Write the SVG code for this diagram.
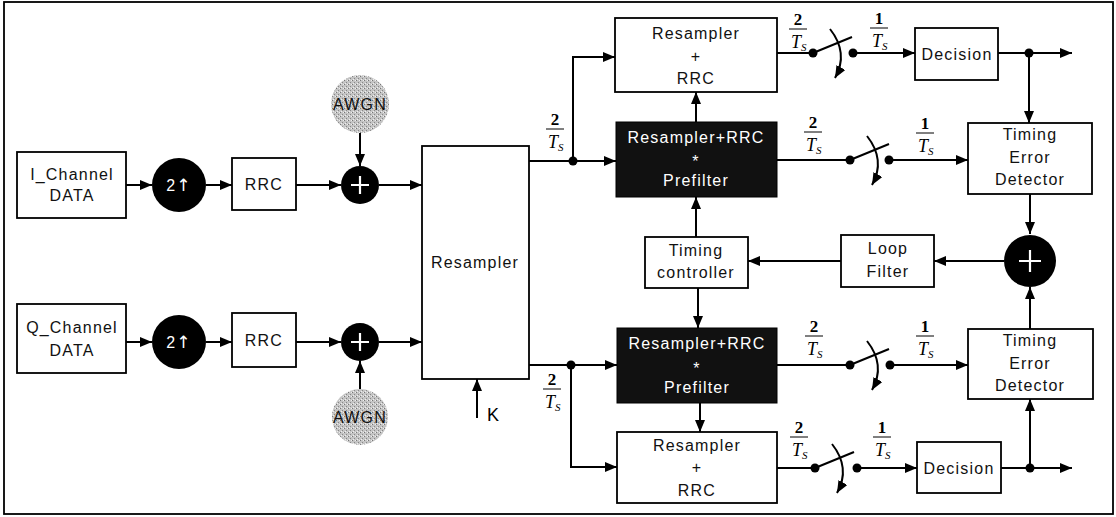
<svg xmlns="http://www.w3.org/2000/svg" width="1116" height="517" viewBox="0 0 1116 517">
<style>
.box{fill:#fff;stroke:#000;stroke-width:1.8}
.blk{fill:#111;stroke:#000;stroke-width:1}
.t{font-family:"Liberation Sans",Arial,sans-serif;font-size:16px;letter-spacing:1.2px;text-anchor:middle;fill:#111}
.w{fill:#fff}
.c{fill:none;stroke:#000;stroke-width:2}
.a{marker-end:url(#arr)}
.dot{fill:#000}
.plus{stroke:#fff;stroke-width:2.2}
.fd{font-family:"Liberation Serif","Times New Roman",serif;font-size:17px;text-anchor:middle;font-weight:bold}
.ft{font-family:"Liberation Serif","Times New Roman",serif;font-size:18px;font-style:italic}
.fs{font-size:11px}
.bar{stroke:#000;stroke-width:1}
.up{font-family:"DejaVu Sans",sans-serif;font-size:17px}
</style>
<defs>
<marker id="arr" viewBox="0 0 12 10" refX="12" refY="5" markerWidth="12" markerHeight="10" markerUnits="userSpaceOnUse" orient="auto">
<path d="M0,0 L12,5 L0,10 z" fill="#000"/>
</marker>
<pattern id="noise" width="4" height="4" patternUnits="userSpaceOnUse">
<rect width="4" height="4" fill="#c4c4c4"/>
<rect x="0" y="0" width="1" height="1" fill="#777"/>
<rect x="2" y="2" width="1" height="1" fill="#888"/>
<rect x="3" y="0" width="1" height="1" fill="#eee"/>
<rect x="1" y="3" width="1" height="1" fill="#eee"/>
</pattern>
<g id="frac2"><text class="fd" x="0" y="-4">2</text><line class="bar" x1="-9" y1="0" x2="9" y2="0"/><text class="ft" x="-7" y="19">T<tspan class="fs" dy="3">S</tspan></text></g>
<g id="frac1"><text class="fd" x="0" y="-4">1</text><line class="bar" x1="-9" y1="0" x2="9" y2="0"/><text class="ft" x="-7" y="19">T<tspan class="fs" dy="3">S</tspan></text></g>
<g id="sw"><circle class="dot" cx="0" cy="0" r="4.5"/><line class="c" x1="0" y1="0" x2="39" y2="-16"/><path class="c a" d="M17,-24 Q36,0 22,25" stroke-width="1.8"/></g>
</defs>

<rect x="4" y="2" width="1109" height="512" fill="#fff" stroke="#000" stroke-width="1.8"/>

<g id="connectors">
<path class="c a" d="M126,185 H152"/>
<path class="c a" d="M206,185 H232"/>
<path class="c a" d="M296,185 H341"/>
<path class="c a" d="M360,133 V166"/>
<path class="c a" d="M379,185 H422"/>
<path class="c a" d="M126,342 H152"/>
<path class="c a" d="M206,342 H232"/>
<path class="c a" d="M296,342 H341"/>
<path class="c a" d="M360,389 V361"/>
<path class="c a" d="M379,342 H422"/>
<path class="c a" d="M477,418 V379"/>
<path class="c a" d="M529,161 H616"/>
<path class="c a" d="M573,161 V57 H615"/>
<circle class="dot" cx="573" cy="161" r="4.5"/>
<path class="c a" d="M696,123 V92"/>
<path class="c" d="M777,53 H813"/>
<use href="#sw" x="813" y="53"/>
<circle class="dot" cx="853" cy="53" r="4.5"/>
<path class="c a" d="M853,53 H915"/>
<path class="c a" d="M998,53 H1072"/>
<circle class="dot" cx="1029" cy="53" r="4.5"/>
<path class="c a" d="M1029,53 V123"/>
<path class="c" d="M777,160 H850"/>
<use href="#sw" x="850" y="160"/>
<circle class="dot" cx="889" cy="160" r="4.5"/>
<path class="c a" d="M889,160 H968"/>
<path class="c a" d="M1030,194 V234"/>
<path class="c a" d="M1004,261 H934"/>
<path class="c a" d="M841,261 H748"/>
<path class="c a" d="M696,237 V197"/>
<path class="c a" d="M698,288 V328"/>
<path class="c a" d="M529,365 H617"/>
<path class="c a" d="M571,365 V467 H617"/>
<circle class="dot" cx="571" cy="365" r="4.5"/>
<path class="c a" d="M700,403 V432"/>
<path class="c" d="M777,365 H850"/>
<use href="#sw" x="850" y="365"/>
<circle class="dot" cx="890" cy="365" r="4.5"/>
<path class="c a" d="M890,365 H968"/>
<path class="c a" d="M1030,329 V287"/>
<path class="c" d="M777,468 H815"/>
<use href="#sw" x="815" y="468"/>
<circle class="dot" cx="857" cy="468" r="4.5"/>
<path class="c a" d="M857,468 H917"/>
<path class="c a" d="M1001,468 H1072"/>
<circle class="dot" cx="1030" cy="468" r="4.5"/>
<path class="c a" d="M1030,468 V399"/>
</g>

<g id="labels">
<use href="#frac2" x="798" y="29"/>
<use href="#frac1" x="879" y="28"/>
<use href="#frac2" x="555" y="129"/>
<use href="#frac2" x="813" y="132"/>
<use href="#frac1" x="925" y="133"/>
<use href="#frac2" x="814" y="336"/>
<use href="#frac1" x="925" y="336"/>
<use href="#frac2" x="552" y="389"/>
<use href="#frac2" x="799" y="437"/>
<use href="#frac1" x="882" y="437"/>
<text x="487" y="421" font-family="Liberation Sans,Arial,sans-serif" font-size="18">K</text>
</g>

<g id="i-data"><rect class="box" x="17" y="152" width="109" height="66"/><text class="t" x="72" y="180">I_Channel</text><text class="t" x="72" y="201">DATA</text></g>
<g id="i-up"><circle cx="179" cy="185" r="27" fill="#000"/><text class="t w" x="179" y="191" font-size="17">2<tspan class="up">↑</tspan></text></g>
<g id="i-rrc"><rect class="box" x="232" y="158" width="64" height="52"/><text class="t" x="264" y="190">RRC</text></g>
<g id="i-awgn"><circle cx="360" cy="104" r="29" fill="url(#noise)"/><text class="t" x="360" y="110" letter-spacing="0.5">AWGN</text></g>
<g id="i-sum"><circle cx="360" cy="185" r="19" fill="#000"/><path class="plus" d="M351,185 H369 M360,176 V194"/></g>

<g id="q-data"><rect class="box" x="17" y="304" width="109" height="69"/><text class="t" x="72" y="333">Q_Channel</text><text class="t" x="72" y="356">DATA</text></g>
<g id="q-up"><circle cx="179" cy="342" r="27" fill="#000"/><text class="t w" x="179" y="348" font-size="17">2<tspan class="up">↑</tspan></text></g>
<g id="q-rrc"><rect class="box" x="232" y="313" width="64" height="54"/><text class="t" x="264" y="346">RRC</text></g>
<g id="q-awgn"><circle cx="360" cy="417" r="28" fill="url(#noise)"/><text class="t" x="360" y="423" letter-spacing="0.5">AWGN</text></g>
<g id="q-sum"><circle cx="360" cy="342" r="19" fill="#000"/><path class="plus" d="M351,342 H369 M360,333 V351"/></g>

<g id="resampler"><rect class="box" x="422" y="146" width="107" height="233"/><text class="t" x="475" y="268">Resampler</text></g>

<g id="top-rrc"><rect class="box" x="615" y="18" width="162" height="74"/><text class="t" x="696" y="39">Resampler</text><text class="t" x="696" y="62">+</text><text class="t" x="696" y="84">RRC</text></g>
<g id="top-pre"><rect class="blk" x="616" y="122" width="161" height="75"/><text class="t w" x="696" y="143">Resampler+RRC</text><text class="t w" x="696" y="167">*</text><text class="t w" x="696" y="186">Prefilter</text></g>
<g id="timing-ctrl"><rect class="box" x="645" y="237" width="103" height="51"/><text class="t" x="696" y="256">Timing</text><text class="t" x="696" y="278">controller</text></g>
<g id="bot-pre"><rect class="blk" x="617" y="328" width="160" height="75"/><text class="t w" x="697" y="349">Resampler+RRC</text><text class="t w" x="697" y="374">*</text><text class="t w" x="697" y="393">Prefilter</text></g>
<g id="bot-rrc"><rect class="box" x="617" y="432" width="160" height="71"/><text class="t" x="697" y="451">Resampler</text><text class="t" x="697" y="473">+</text><text class="t" x="697" y="496">RRC</text></g>

<g id="top-dec"><rect class="box" x="915" y="28" width="83" height="52"/><text class="t" x="957" y="60" font-size="17">Decision</text></g>
<g id="top-ted"><rect class="box" x="968" y="123" width="124" height="71"/><text class="t" x="1030" y="140">Timing</text><text class="t" x="1030" y="163">Error</text><text class="t" x="1030" y="185">Detector</text></g>
<g id="loop-sum"><circle cx="1030" cy="261" r="26" fill="#000"/><path class="plus" d="M1019,261 H1041 M1030,250 V272"/></g>
<g id="loop-filter"><rect class="box" x="841" y="235" width="93" height="52"/><text class="t" x="888" y="254">Loop</text><text class="t" x="888" y="277">Filter</text></g>
<g id="bot-ted"><rect class="box" x="968" y="329" width="125" height="70"/><text class="t" x="1030" y="346">Timing</text><text class="t" x="1030" y="369">Error</text><text class="t" x="1030" y="391">Detector</text></g>
<g id="bot-dec"><rect class="box" x="917" y="442" width="84" height="51"/><text class="t" x="959" y="474" font-size="17">Decision</text></g>
</svg>
